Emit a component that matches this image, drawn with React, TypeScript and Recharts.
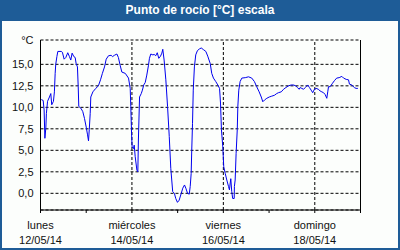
import { CartesianGrid, Line, LineChart, ReferenceLine, XAxis, YAxis } from "recharts";

// horas desde lunes 12/05/14 00:00
const hours = [
  0.4, 1.4, 1.9, 2.3, 2.8, 3.1, 3.7, 4.7, 5.4, 5.9, 6.8, 7.3, 7.7, 8.0, 8.6, 9.1, 10.9, 11.5, 12.4, 13.3,
  14.3, 15.2, 15.9, 16.6, 17.5, 18.2, 18.7, 19.4, 19.8, 20.1, 21.2, 22.2, 23.1, 24.0, 24.7, 25.2, 25.6, 26.1, 26.4, 27.5,
  29.0, 30.4, 31.5, 32.5, 33.6, 34.5, 35.7, 37.1, 37.8, 38.8, 40.1, 40.9, 41.8, 42.7, 44.5, 46.2, 47.1, 47.4, 47.8, 48.1,
  48.8, 49.2, 49.7, 50.6, 51.1, 51.4, 52.0, 52.9, 53.5, 54.2, 55.0, 55.8, 56.7, 57.2, 57.9, 59.0, 59.7, 60.5, 61.3, 62.1,
  63.0, 63.7, 64.2, 64.9, 65.8, 66.7, 67.6, 68.4, 69.4, 70.3, 71.0, 71.9, 72.8, 73.9, 74.7, 75.6, 76.3, 77.2, 78.1, 78.6,
  79.1, 79.4, 79.8, 80.2, 80.8, 81.5, 82.4, 83.5, 84.4, 85.6, 86.8, 87.8, 89.1, 89.9, 90.8, 92.0, 93.1, 94.0, 94.5, 95.0,
  95.7, 96.2, 97.0, 97.8, 98.7, 99.2, 99.6, 99.9, 100.4, 100.9, 101.7, 101.8, 102.2, 102.7, 103.3, 103.6, 104.1, 104.8, 105.7, 107.5,
  109.2, 110.9, 112.3, 113.5, 114.8, 115.9, 116.7, 117.6, 118.8, 120.1, 121.4, 122.8, 124.0, 124.9, 126.4, 127.6, 128.8, 130.2, 131.6, 132.8,
  134.0, 134.9, 135.8, 136.3, 137.2, 138.1, 139.0, 140.3, 141.2, 142.1, 142.9, 143.8, 144.7, 145.9, 146.8, 147.7, 148.6, 149.4, 150.3, 150.8,
  151.2, 152.1, 153.3, 154.3, 155.5, 156.8, 158.2, 159.1, 160.5, 161.7, 162.2, 163.4, 164.8, 165.7, 166.6,
];

const dewPoint = [
  10.9, 10.8, 9.7, 6.4, 7.6, 9.3, 10.7, 11.2, 11.6, 10.3, 10.7, 11.8, 13.95, 15.0, 15.9, 16.5, 16.5, 16.4, 15.6, 15.8,
  16.35, 15.9, 15.5, 16.3, 15.9, 15.8, 15.1, 14.7, 12.4, 10.1, 9.9, 9.5, 8.7, 7.7, 6.8, 6.1, 7.4, 9.3, 11.2, 11.8,
  12.2, 12.5, 13.2, 13.95, 14.7, 15.6, 16.0, 16.05, 15.9, 16.05, 16.2, 15.8, 14.9, 14.1, 13.95, 13.4, 12.2, 10.1, 7.0, 5.4,
  5.2, 5.6, 4.3, 2.7, 2.5, 6.2, 11.2, 11.6, 12.0, 12.6, 12.9, 13.75, 14.9, 15.7, 16.2, 16.1, 16.15, 16.0, 16.35, 15.7,
  15.95, 16.3, 16.75, 15.5, 13.2, 10.1, 6.6, 2.9, 0.2, 0.0, -0.6, -1.05, -0.8, 0.0, 0.6, 0.97, 0.6, 0.0, -0.1, 0.8,
  2.3, 5.0, 8.1, 12.0, 14.7, 16.1, 16.6, 16.8, 16.9, 16.7, 16.5, 15.95, 15.1, 13.95, 13.4, 13.0, 12.6, 12.2, 10.5, 7.4,
  5.4, 3.1, 2.3, 1.55, 0.8, 0.4, 1.2, 1.7, 0.2, -0.6, -0.6, 0.8, 1.55, 4.65, 7.4, 10.1, 12.0, 13.0, 13.4, 13.45,
  13.55, 13.4, 13.0, 12.4, 11.8, 11.2, 10.65, 10.85, 11.05, 11.2, 11.3, 11.4, 11.6, 11.7, 11.8, 12.1, 12.3, 12.5, 12.6, 12.6,
  12.5, 12.3, 12.1, 12.3, 12.2, 12.1, 12.3, 12.6, 12.3, 12.0, 11.7, 12.1, 12.2, 12.1, 11.9, 11.8, 11.7, 11.5, 11.05, 11.8,
  12.4, 12.4, 12.8, 13.1, 13.4, 13.45, 13.6, 13.4, 13.25, 13.2, 12.7, 12.6, 12.3, 12.2, 12.2,
];

const dayTicks = [0, 24, 48, 72, 96, 120, 144, 168];
const dayNames = ["lunes", "martes", "miércoles", "jueves", "viernes", "sábado", "domingo"];
const dayDates = ["12/05/14", "13/05/14", "14/05/14", "15/05/14", "16/05/14", "17/05/14", "18/05/14"];
const tempTicks = [0, 2.5, 5, 7.5, 10, 12.5, 15, 17.83];

const data = hours.map((h, i) => ({ h, v: dewPoint[i] }));

const FONT = "'Liberation Sans', Arial, sans-serif";
const BLUE = "#1e5c97";

const DayTick = (props: any) => {
  const { x, payload } = props;
  const idx = Math.round(payload.value / 24);
  if (idx % 2 !== 0 || idx >= dayNames.length) return null;
  // eje inferior en y=210 (250 - altura del eje)
  const base = 250 - 40;
  return (
    <text x={x} y={base} textAnchor="middle" fontSize={11} fontFamily={FONT} fill="#111">
      <tspan x={x} dy={19}>
        {dayNames[idx]}
      </tspan>
      <tspan x={x} dy={15}>
        {dayDates[idx]}
      </tspan>
    </text>
  );
};

export default function App() {
  return (
    <div style={{ position: "relative", width: 400, height: 250, background: "#fcfefc", fontFamily: FONT }}>
      <style>{"body{margin:0}"}</style>
      <div
        style={{
          position: "absolute",
          left: 0,
          top: 0,
          width: 400,
          height: 21,
          background: BLUE,
          color: "#fff",
          fontWeight: 700,
          fontSize: 12,
          lineHeight: "21px",
          textAlign: "center",
        }}
      >
        Punto de rocío [°C] escala
      </div>
      <div style={{ position: "absolute", left: 0, top: 0 }}>
        <LineChart width={400} height={250} data={data} margin={{ top: 40, right: 39.5, bottom: 0, left: 0 }}>
          <CartesianGrid vertical={false} stroke="#000" strokeDasharray="3 2" />
          <XAxis
            dataKey="h"
            type="number"
            domain={[0, 168]}
            ticks={dayTicks}
            interval={0}
            tick={<DayTick />}
            tickSize={3}
            axisLine={{ stroke: "#000" }}
            tickLine={{ stroke: "#000" }}
            height={40}
          />
          <YAxis
            type="number"
            domain={[-1.94, 17.83]}
            ticks={tempTicks}
            interval={0}
            allowDataOverflow
            width={40.5}
            tickLine={false}
            tickSize={5}
            tickMargin={2}
            axisLine={{ stroke: "#000" }}
            tick={{ fontSize: 11, fontFamily: FONT, fill: "#111" }}
            tickFormatter={(v: number) => (v > 17 ? "°C" : v.toFixed(1).replace(".", ","))}
          />
          {[48, 96, 144].map((d) => (
            <ReferenceLine key={d} x={d} stroke="#000" strokeDasharray="3 2" />
          ))}
          <ReferenceLine x={168} stroke="#000" />
          <Line
            dataKey="v"
            stroke="#0000ee"
            strokeWidth={1}
            dot={false}
            isAnimationActive={false}
            type="linear"
          />
        </LineChart>
      </div>
      <div
        style={{
          position: "absolute",
          left: 0,
          top: 0,
          width: 400,
          height: 250,
          boxSizing: "border-box",
          border: `2px solid ${BLUE}`,
          pointerEvents: "none",
        }}
      />
    </div>
  );
}
